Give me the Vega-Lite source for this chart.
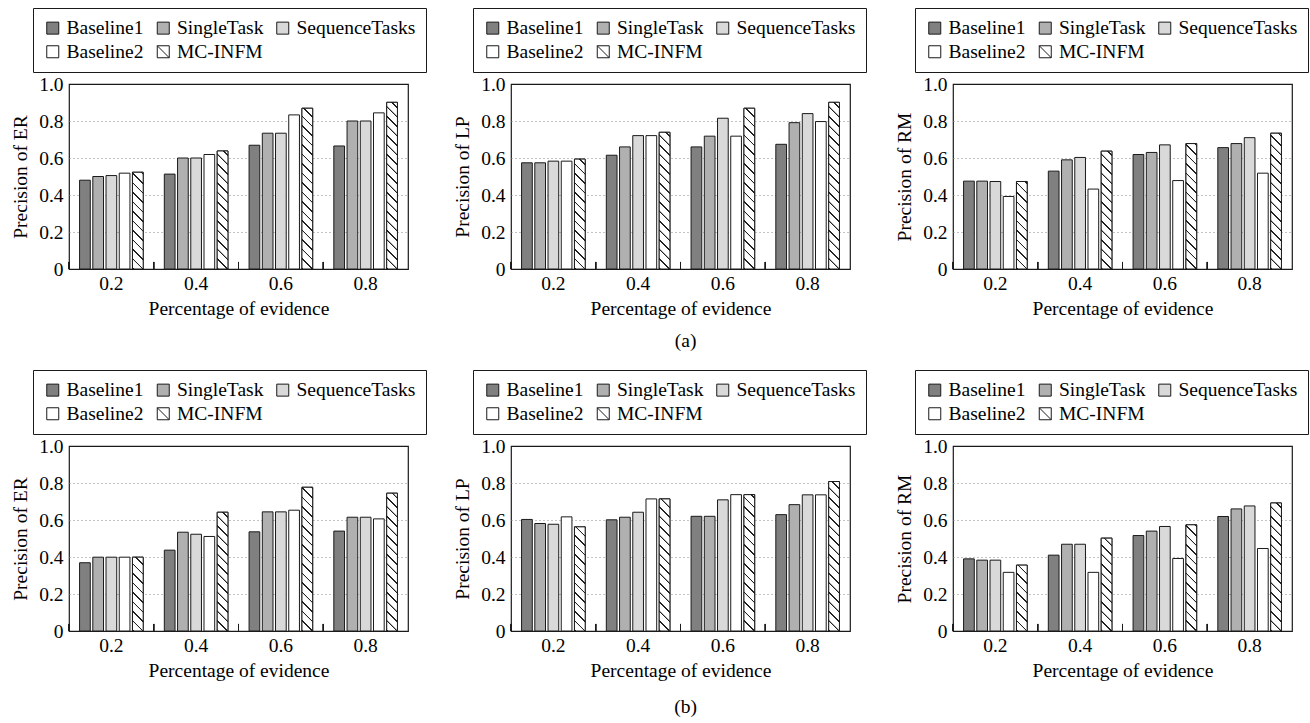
{
  "$schema": "https://vega.github.io/schema/vega-lite/v6.json",
  "padding": {"left": 10, "top": 6, "right": 0, "bottom": 2},
  "background": "white",
  "params": [
    {"name": "hatchStops", "value": [
      {"offset": 0, "color": "#ffffff"}, {"offset": 0.0014, "color": "#222222"}, {"offset": 0.0077, "color": "#222222"}, {"offset": 0.0091, "color": "#ffffff"},
      {"offset": 0.0455, "color": "#ffffff"}, {"offset": 0.0468, "color": "#222222"}, {"offset": 0.0532, "color": "#222222"}, {"offset": 0.0545, "color": "#ffffff"},
      {"offset": 0.0909, "color": "#ffffff"}, {"offset": 0.0923, "color": "#222222"}, {"offset": 0.0986, "color": "#222222"}, {"offset": 0.1, "color": "#ffffff"},
      {"offset": 0.1364, "color": "#ffffff"}, {"offset": 0.1377, "color": "#222222"}, {"offset": 0.1441, "color": "#222222"}, {"offset": 0.1455, "color": "#ffffff"},
      {"offset": 0.1818, "color": "#ffffff"}, {"offset": 0.1832, "color": "#222222"}, {"offset": 0.1895, "color": "#222222"}, {"offset": 0.1909, "color": "#ffffff"},
      {"offset": 0.2273, "color": "#ffffff"}, {"offset": 0.2286, "color": "#222222"}, {"offset": 0.235, "color": "#222222"}, {"offset": 0.2364, "color": "#ffffff"},
      {"offset": 0.2727, "color": "#ffffff"}, {"offset": 0.2741, "color": "#222222"}, {"offset": 0.2805, "color": "#222222"}, {"offset": 0.2818, "color": "#ffffff"},
      {"offset": 0.3182, "color": "#ffffff"}, {"offset": 0.3195, "color": "#222222"}, {"offset": 0.3259, "color": "#222222"}, {"offset": 0.3273, "color": "#ffffff"},
      {"offset": 0.3636, "color": "#ffffff"}, {"offset": 0.365, "color": "#222222"}, {"offset": 0.3714, "color": "#222222"}, {"offset": 0.3727, "color": "#ffffff"},
      {"offset": 0.4091, "color": "#ffffff"}, {"offset": 0.4105, "color": "#222222"}, {"offset": 0.4168, "color": "#222222"}, {"offset": 0.4182, "color": "#ffffff"},
      {"offset": 0.4545, "color": "#ffffff"}, {"offset": 0.4559, "color": "#222222"}, {"offset": 0.4623, "color": "#222222"}, {"offset": 0.4636, "color": "#ffffff"},
      {"offset": 0.5, "color": "#ffffff"}, {"offset": 0.5014, "color": "#222222"}, {"offset": 0.5077, "color": "#222222"}, {"offset": 0.5091, "color": "#ffffff"},
      {"offset": 0.5455, "color": "#ffffff"}, {"offset": 0.5468, "color": "#222222"}, {"offset": 0.5532, "color": "#222222"}, {"offset": 0.5545, "color": "#ffffff"},
      {"offset": 0.5909, "color": "#ffffff"}, {"offset": 0.5923, "color": "#222222"}, {"offset": 0.5986, "color": "#222222"}, {"offset": 0.6, "color": "#ffffff"},
      {"offset": 0.6364, "color": "#ffffff"}, {"offset": 0.6377, "color": "#222222"}, {"offset": 0.6441, "color": "#222222"}, {"offset": 0.6455, "color": "#ffffff"},
      {"offset": 0.6818, "color": "#ffffff"}, {"offset": 0.6832, "color": "#222222"}, {"offset": 0.6895, "color": "#222222"}, {"offset": 0.6909, "color": "#ffffff"},
      {"offset": 0.7273, "color": "#ffffff"}, {"offset": 0.7286, "color": "#222222"}, {"offset": 0.735, "color": "#222222"}, {"offset": 0.7364, "color": "#ffffff"},
      {"offset": 0.7727, "color": "#ffffff"}, {"offset": 0.7741, "color": "#222222"}, {"offset": 0.7805, "color": "#222222"}, {"offset": 0.7818, "color": "#ffffff"},
      {"offset": 0.8182, "color": "#ffffff"}, {"offset": 0.8195, "color": "#222222"}, {"offset": 0.8259, "color": "#222222"}, {"offset": 0.8273, "color": "#ffffff"},
      {"offset": 0.8636, "color": "#ffffff"}, {"offset": 0.865, "color": "#222222"}, {"offset": 0.8714, "color": "#222222"}, {"offset": 0.8727, "color": "#ffffff"},
      {"offset": 0.9091, "color": "#ffffff"}, {"offset": 0.9105, "color": "#222222"}, {"offset": 0.9168, "color": "#222222"}, {"offset": 0.9182, "color": "#ffffff"},
      {"offset": 0.9545, "color": "#ffffff"}, {"offset": 0.9559, "color": "#222222"}, {"offset": 0.9623, "color": "#222222"}, {"offset": 0.9636, "color": "#ffffff"},
      {"offset": 1, "color": "#ffffff"}
    ]}
  ],
  "data": {"values": [
    {"p": "a", "t": "ER", "pct": "0.2", "Baseline1": 0.48, "SingleTask": 0.5, "SequenceTasks": 0.505, "Baseline2": 0.518, "MC-INFM": 0.523},
    {"p": "a", "t": "ER", "pct": "0.4", "Baseline1": 0.513, "SingleTask": 0.6, "SequenceTasks": 0.6, "Baseline2": 0.619, "MC-INFM": 0.638},
    {"p": "a", "t": "ER", "pct": "0.6", "Baseline1": 0.669, "SingleTask": 0.734, "SequenceTasks": 0.734, "Baseline2": 0.833, "MC-INFM": 0.869},
    {"p": "a", "t": "ER", "pct": "0.8", "Baseline1": 0.665, "SingleTask": 0.8, "SequenceTasks": 0.8, "Baseline2": 0.844, "MC-INFM": 0.901},
    {"p": "a", "t": "LP", "pct": "0.2", "Baseline1": 0.574, "SingleTask": 0.574, "SequenceTasks": 0.583, "Baseline2": 0.583, "MC-INFM": 0.594},
    {"p": "a", "t": "LP", "pct": "0.4", "Baseline1": 0.615, "SingleTask": 0.66, "SequenceTasks": 0.721, "Baseline2": 0.721, "MC-INFM": 0.739},
    {"p": "a", "t": "LP", "pct": "0.6", "Baseline1": 0.66, "SingleTask": 0.718, "SequenceTasks": 0.815, "Baseline2": 0.718, "MC-INFM": 0.869},
    {"p": "a", "t": "LP", "pct": "0.8", "Baseline1": 0.674, "SingleTask": 0.791, "SequenceTasks": 0.84, "Baseline2": 0.797, "MC-INFM": 0.901},
    {"p": "a", "t": "RM", "pct": "0.2", "Baseline1": 0.475, "SingleTask": 0.475, "SequenceTasks": 0.473, "Baseline2": 0.392, "MC-INFM": 0.473},
    {"p": "a", "t": "RM", "pct": "0.4", "Baseline1": 0.529, "SingleTask": 0.59, "SequenceTasks": 0.603, "Baseline2": 0.432, "MC-INFM": 0.637},
    {"p": "a", "t": "RM", "pct": "0.6", "Baseline1": 0.619, "SingleTask": 0.63, "SequenceTasks": 0.671, "Baseline2": 0.478, "MC-INFM": 0.678},
    {"p": "a", "t": "RM", "pct": "0.8", "Baseline1": 0.656, "SingleTask": 0.678, "SequenceTasks": 0.71, "Baseline2": 0.518, "MC-INFM": 0.734},
    {"p": "b", "t": "ER", "pct": "0.2", "Baseline1": 0.369, "SingleTask": 0.399, "SequenceTasks": 0.399, "Baseline2": 0.399, "MC-INFM": 0.399},
    {"p": "b", "t": "ER", "pct": "0.4", "Baseline1": 0.437, "SingleTask": 0.534, "SequenceTasks": 0.523, "Baseline2": 0.511, "MC-INFM": 0.642},
    {"p": "b", "t": "ER", "pct": "0.6", "Baseline1": 0.536, "SingleTask": 0.644, "SequenceTasks": 0.644, "Baseline2": 0.653, "MC-INFM": 0.777},
    {"p": "b", "t": "ER", "pct": "0.8", "Baseline1": 0.54, "SingleTask": 0.615, "SequenceTasks": 0.615, "Baseline2": 0.606, "MC-INFM": 0.745},
    {"p": "b", "t": "LP", "pct": "0.2", "Baseline1": 0.603, "SingleTask": 0.581, "SequenceTasks": 0.577, "Baseline2": 0.617, "MC-INFM": 0.563},
    {"p": "b", "t": "LP", "pct": "0.4", "Baseline1": 0.601, "SingleTask": 0.615, "SequenceTasks": 0.642, "Baseline2": 0.714, "MC-INFM": 0.714},
    {"p": "b", "t": "LP", "pct": "0.6", "Baseline1": 0.62, "SingleTask": 0.62, "SequenceTasks": 0.709, "Baseline2": 0.737, "MC-INFM": 0.737},
    {"p": "b", "t": "LP", "pct": "0.8", "Baseline1": 0.629, "SingleTask": 0.683, "SequenceTasks": 0.736, "Baseline2": 0.736, "MC-INFM": 0.808},
    {"p": "b", "t": "RM", "pct": "0.2", "Baseline1": 0.39, "SingleTask": 0.383, "SequenceTasks": 0.383, "Baseline2": 0.317, "MC-INFM": 0.356},
    {"p": "b", "t": "RM", "pct": "0.4", "Baseline1": 0.41, "SingleTask": 0.469, "SequenceTasks": 0.469, "Baseline2": 0.317, "MC-INFM": 0.502},
    {"p": "b", "t": "RM", "pct": "0.6", "Baseline1": 0.516, "SingleTask": 0.54, "SequenceTasks": 0.565, "Baseline2": 0.392, "MC-INFM": 0.574},
    {"p": "b", "t": "RM", "pct": "0.8", "Baseline1": 0.619, "SingleTask": 0.66, "SequenceTasks": 0.676, "Baseline2": 0.446, "MC-INFM": 0.692}
  ]},
  "spacing": 17,
  "resolve": {"scale": {"fill": "independent"}, "legend": {"fill": "independent"}},
  "vconcat": [
    {
      "title": {"text": "(a)", "orient": "bottom", "anchor": "middle", "dx": 26, "offset": 13},
      "spacing": 103,
      "bounds": "flush",
      "resolve": {"scale": {"fill": "independent"}, "legend": {"fill": "independent"}},
      "hconcat": [
        {
          "width": 339, "height": 185,
          "transform": [{"filter": "datum.p === 'a' && datum.t === 'ER'"}, {"fold": ["Baseline1", "SingleTask", "SequenceTasks", "Baseline2", "MC-INFM"], "as": ["series", "value"]}],
          "encoding": {
            "x": {"field": "pct", "type": "nominal", "scale": {"paddingInner": 0, "paddingOuter": 0}, "axis": {"title": "Percentage of evidence"}},
            "y": {"field": "value", "type": "quantitative", "stack": null, "scale": {"domain": [0, 1], "nice": false}, "axis": {"title": "Precision of ER", "values": [0, 0.2, 0.4, 0.6, 0.8, 1], "labelExpr": "datum.value === 0 ? '0' : format(datum.value, '.1f')", "gridOpacity": {"condition": {"test": "datum.value === 0 || datum.value === 1", "value": 0}, "value": 1}}}
          },
          "layer": [
            {"mark": {"type": "bar", "stroke": "#1a1a1a", "strokeWidth": 1},
             "encoding": {
               "xOffset": {"field": "series", "type": "nominal", "scale": {"domain": ["Baseline1", "SingleTask", "SequenceTasks", "Baseline2", "MC-INFM"], "paddingInner": 0.19, "paddingOuter": 0.8}},
               "fill": {"field": "series", "type": "nominal", "scale": {"domain": ["Baseline1", "SingleTask", "SequenceTasks", "Baseline2", "MC-INFM"], "range": ["#808080", "#b0b0b0", "#d9d9d9", "#ffffff", "#ffffff"]},
                 "legend": {"orient": "none", "legendX": -36, "legendY": -76, "direction": "horizontal", "columns": 3, "title": null,
                   "encode": {"symbols": {"update": {"shape": {"signal": "datum.value === 'MC-INFM' ? 'M-1,-1H1V1H-1ZM-1,-1L1,1' : 'square'"}}}}}}
             }},
            {"transform": [{"filter": "datum.series === 'MC-INFM'"}],
             "mark": {"type": "bar", "stroke": "#1a1a1a", "strokeWidth": 1,
               "fill": {"expr": "{gradient: 'linear', x1: 0, y1: 1, x2: 209 * 10.7 / (114.5 + pow(datum.value * 185, 2)), y2: 1 - 209 * datum.value * 185 / (114.5 + pow(datum.value * 185, 2)), stops: hatchStops}"}},
             "encoding": {
               "xOffset": {"field": "series", "type": "nominal", "scale": {"domain": ["Baseline1", "SingleTask", "SequenceTasks", "Baseline2", "MC-INFM"], "paddingInner": 0.19, "paddingOuter": 0.8}}
             }},
            {"mark": {"type": "rule", "color": "#1a1a1a", "strokeWidth": 1},
             "encoding": {
               "x": {"field": "pct", "type": "nominal", "bandPosition": 0},
               "y": {"datum": 0},
               "y2": {"datum": 0.038}
             }}
          ]
        },
        {
          "width": 339, "height": 185,
          "transform": [{"filter": "datum.p === 'a' && datum.t === 'LP'"}, {"fold": ["Baseline1", "SingleTask", "SequenceTasks", "Baseline2", "MC-INFM"], "as": ["series", "value"]}],
          "encoding": {
            "x": {"field": "pct", "type": "nominal", "scale": {"paddingInner": 0, "paddingOuter": 0}, "axis": {"title": "Percentage of evidence"}},
            "y": {"field": "value", "type": "quantitative", "stack": null, "scale": {"domain": [0, 1], "nice": false}, "axis": {"title": "Precision of LP", "values": [0, 0.2, 0.4, 0.6, 0.8, 1], "labelExpr": "datum.value === 0 ? '0' : format(datum.value, '.1f')", "gridOpacity": {"condition": {"test": "datum.value === 0 || datum.value === 1", "value": 0}, "value": 1}}}
          },
          "layer": [
            {"mark": {"type": "bar", "stroke": "#1a1a1a", "strokeWidth": 1},
             "encoding": {
               "xOffset": {"field": "series", "type": "nominal", "scale": {"domain": ["Baseline1", "SingleTask", "SequenceTasks", "Baseline2", "MC-INFM"], "paddingInner": 0.19, "paddingOuter": 0.8}},
               "fill": {"field": "series", "type": "nominal", "scale": {"domain": ["Baseline1", "SingleTask", "SequenceTasks", "Baseline2", "MC-INFM"], "range": ["#808080", "#b0b0b0", "#d9d9d9", "#ffffff", "#ffffff"]},
                 "legend": {"orient": "none", "legendX": -38, "legendY": -76, "direction": "horizontal", "columns": 3, "title": null,
                   "encode": {"symbols": {"update": {"shape": {"signal": "datum.value === 'MC-INFM' ? 'M-1,-1H1V1H-1ZM-1,-1L1,1' : 'square'"}}}}}}
             }},
            {"transform": [{"filter": "datum.series === 'MC-INFM'"}],
             "mark": {"type": "bar", "stroke": "#1a1a1a", "strokeWidth": 1,
               "fill": {"expr": "{gradient: 'linear', x1: 0, y1: 1, x2: 209 * 10.7 / (114.5 + pow(datum.value * 185, 2)), y2: 1 - 209 * datum.value * 185 / (114.5 + pow(datum.value * 185, 2)), stops: hatchStops}"}},
             "encoding": {
               "xOffset": {"field": "series", "type": "nominal", "scale": {"domain": ["Baseline1", "SingleTask", "SequenceTasks", "Baseline2", "MC-INFM"], "paddingInner": 0.19, "paddingOuter": 0.8}}
             }},
            {"mark": {"type": "rule", "color": "#1a1a1a", "strokeWidth": 1},
             "encoding": {
               "x": {"field": "pct", "type": "nominal", "bandPosition": 0},
               "y": {"datum": 0},
               "y2": {"datum": 0.038}
             }}
          ]
        },
        {
          "width": 339, "height": 185,
          "transform": [{"filter": "datum.p === 'a' && datum.t === 'RM'"}, {"fold": ["Baseline1", "SingleTask", "SequenceTasks", "Baseline2", "MC-INFM"], "as": ["series", "value"]}],
          "encoding": {
            "x": {"field": "pct", "type": "nominal", "scale": {"paddingInner": 0, "paddingOuter": 0}, "axis": {"title": "Percentage of evidence"}},
            "y": {"field": "value", "type": "quantitative", "stack": null, "scale": {"domain": [0, 1], "nice": false}, "axis": {"title": "Precision of RM", "values": [0, 0.2, 0.4, 0.6, 0.8, 1], "labelExpr": "datum.value === 0 ? '0' : format(datum.value, '.1f')", "gridOpacity": {"condition": {"test": "datum.value === 0 || datum.value === 1", "value": 0}, "value": 1}}}
          },
          "layer": [
            {"mark": {"type": "bar", "stroke": "#1a1a1a", "strokeWidth": 1},
             "encoding": {
               "xOffset": {"field": "series", "type": "nominal", "scale": {"domain": ["Baseline1", "SingleTask", "SequenceTasks", "Baseline2", "MC-INFM"], "paddingInner": 0.19, "paddingOuter": 0.8}},
               "fill": {"field": "series", "type": "nominal", "scale": {"domain": ["Baseline1", "SingleTask", "SequenceTasks", "Baseline2", "MC-INFM"], "range": ["#808080", "#b0b0b0", "#d9d9d9", "#ffffff", "#ffffff"]},
                 "legend": {"orient": "none", "legendX": -38, "legendY": -76, "direction": "horizontal", "columns": 3, "title": null,
                   "encode": {"symbols": {"update": {"shape": {"signal": "datum.value === 'MC-INFM' ? 'M-1,-1H1V1H-1ZM-1,-1L1,1' : 'square'"}}}}}}
             }},
            {"transform": [{"filter": "datum.series === 'MC-INFM'"}],
             "mark": {"type": "bar", "stroke": "#1a1a1a", "strokeWidth": 1,
               "fill": {"expr": "{gradient: 'linear', x1: 0, y1: 1, x2: 209 * 10.7 / (114.5 + pow(datum.value * 185, 2)), y2: 1 - 209 * datum.value * 185 / (114.5 + pow(datum.value * 185, 2)), stops: hatchStops}"}},
             "encoding": {
               "xOffset": {"field": "series", "type": "nominal", "scale": {"domain": ["Baseline1", "SingleTask", "SequenceTasks", "Baseline2", "MC-INFM"], "paddingInner": 0.19, "paddingOuter": 0.8}}
             }},
            {"mark": {"type": "rule", "color": "#1a1a1a", "strokeWidth": 1},
             "encoding": {
               "x": {"field": "pct", "type": "nominal", "bandPosition": 0},
               "y": {"datum": 0},
               "y2": {"datum": 0.038}
             }}
          ]
        }
      ]
    },
    {
      "title": {"text": "(b)", "orient": "bottom", "anchor": "middle", "dx": 26, "offset": 17},
      "spacing": 103,
      "bounds": "flush",
      "resolve": {"scale": {"fill": "independent"}, "legend": {"fill": "independent"}},
      "hconcat": [
        {
          "width": 339, "height": 185,
          "transform": [{"filter": "datum.p === 'b' && datum.t === 'ER'"}, {"fold": ["Baseline1", "SingleTask", "SequenceTasks", "Baseline2", "MC-INFM"], "as": ["series", "value"]}],
          "encoding": {
            "x": {"field": "pct", "type": "nominal", "scale": {"paddingInner": 0, "paddingOuter": 0}, "axis": {"title": "Percentage of evidence"}},
            "y": {"field": "value", "type": "quantitative", "stack": null, "scale": {"domain": [0, 1], "nice": false}, "axis": {"title": "Precision of ER", "values": [0, 0.2, 0.4, 0.6, 0.8, 1], "labelExpr": "datum.value === 0 ? '0' : format(datum.value, '.1f')", "gridOpacity": {"condition": {"test": "datum.value === 0 || datum.value === 1", "value": 0}, "value": 1}}}
          },
          "layer": [
            {"mark": {"type": "bar", "stroke": "#1a1a1a", "strokeWidth": 1},
             "encoding": {
               "xOffset": {"field": "series", "type": "nominal", "scale": {"domain": ["Baseline1", "SingleTask", "SequenceTasks", "Baseline2", "MC-INFM"], "paddingInner": 0.19, "paddingOuter": 0.8}},
               "fill": {"field": "series", "type": "nominal", "scale": {"domain": ["Baseline1", "SingleTask", "SequenceTasks", "Baseline2", "MC-INFM"], "range": ["#808080", "#b0b0b0", "#d9d9d9", "#ffffff", "#ffffff"]},
                 "legend": {"orient": "none", "legendX": -36, "legendY": -76, "direction": "horizontal", "columns": 3, "title": null,
                   "encode": {"symbols": {"update": {"shape": {"signal": "datum.value === 'MC-INFM' ? 'M-1,-1H1V1H-1ZM-1,-1L1,1' : 'square'"}}}}}}
             }},
            {"transform": [{"filter": "datum.series === 'MC-INFM'"}],
             "mark": {"type": "bar", "stroke": "#1a1a1a", "strokeWidth": 1,
               "fill": {"expr": "{gradient: 'linear', x1: 0, y1: 1, x2: 209 * 10.7 / (114.5 + pow(datum.value * 185, 2)), y2: 1 - 209 * datum.value * 185 / (114.5 + pow(datum.value * 185, 2)), stops: hatchStops}"}},
             "encoding": {
               "xOffset": {"field": "series", "type": "nominal", "scale": {"domain": ["Baseline1", "SingleTask", "SequenceTasks", "Baseline2", "MC-INFM"], "paddingInner": 0.19, "paddingOuter": 0.8}}
             }},
            {"mark": {"type": "rule", "color": "#1a1a1a", "strokeWidth": 1},
             "encoding": {
               "x": {"field": "pct", "type": "nominal", "bandPosition": 0},
               "y": {"datum": 0},
               "y2": {"datum": 0.038}
             }}
          ]
        },
        {
          "width": 339, "height": 185,
          "transform": [{"filter": "datum.p === 'b' && datum.t === 'LP'"}, {"fold": ["Baseline1", "SingleTask", "SequenceTasks", "Baseline2", "MC-INFM"], "as": ["series", "value"]}],
          "encoding": {
            "x": {"field": "pct", "type": "nominal", "scale": {"paddingInner": 0, "paddingOuter": 0}, "axis": {"title": "Percentage of evidence"}},
            "y": {"field": "value", "type": "quantitative", "stack": null, "scale": {"domain": [0, 1], "nice": false}, "axis": {"title": "Precision of LP", "values": [0, 0.2, 0.4, 0.6, 0.8, 1], "labelExpr": "datum.value === 0 ? '0' : format(datum.value, '.1f')", "gridOpacity": {"condition": {"test": "datum.value === 0 || datum.value === 1", "value": 0}, "value": 1}}}
          },
          "layer": [
            {"mark": {"type": "bar", "stroke": "#1a1a1a", "strokeWidth": 1},
             "encoding": {
               "xOffset": {"field": "series", "type": "nominal", "scale": {"domain": ["Baseline1", "SingleTask", "SequenceTasks", "Baseline2", "MC-INFM"], "paddingInner": 0.19, "paddingOuter": 0.8}},
               "fill": {"field": "series", "type": "nominal", "scale": {"domain": ["Baseline1", "SingleTask", "SequenceTasks", "Baseline2", "MC-INFM"], "range": ["#808080", "#b0b0b0", "#d9d9d9", "#ffffff", "#ffffff"]},
                 "legend": {"orient": "none", "legendX": -38, "legendY": -76, "direction": "horizontal", "columns": 3, "title": null,
                   "encode": {"symbols": {"update": {"shape": {"signal": "datum.value === 'MC-INFM' ? 'M-1,-1H1V1H-1ZM-1,-1L1,1' : 'square'"}}}}}}
             }},
            {"transform": [{"filter": "datum.series === 'MC-INFM'"}],
             "mark": {"type": "bar", "stroke": "#1a1a1a", "strokeWidth": 1,
               "fill": {"expr": "{gradient: 'linear', x1: 0, y1: 1, x2: 209 * 10.7 / (114.5 + pow(datum.value * 185, 2)), y2: 1 - 209 * datum.value * 185 / (114.5 + pow(datum.value * 185, 2)), stops: hatchStops}"}},
             "encoding": {
               "xOffset": {"field": "series", "type": "nominal", "scale": {"domain": ["Baseline1", "SingleTask", "SequenceTasks", "Baseline2", "MC-INFM"], "paddingInner": 0.19, "paddingOuter": 0.8}}
             }},
            {"mark": {"type": "rule", "color": "#1a1a1a", "strokeWidth": 1},
             "encoding": {
               "x": {"field": "pct", "type": "nominal", "bandPosition": 0},
               "y": {"datum": 0},
               "y2": {"datum": 0.038}
             }}
          ]
        },
        {
          "width": 339, "height": 185,
          "transform": [{"filter": "datum.p === 'b' && datum.t === 'RM'"}, {"fold": ["Baseline1", "SingleTask", "SequenceTasks", "Baseline2", "MC-INFM"], "as": ["series", "value"]}],
          "encoding": {
            "x": {"field": "pct", "type": "nominal", "scale": {"paddingInner": 0, "paddingOuter": 0}, "axis": {"title": "Percentage of evidence"}},
            "y": {"field": "value", "type": "quantitative", "stack": null, "scale": {"domain": [0, 1], "nice": false}, "axis": {"title": "Precision of RM", "values": [0, 0.2, 0.4, 0.6, 0.8, 1], "labelExpr": "datum.value === 0 ? '0' : format(datum.value, '.1f')", "gridOpacity": {"condition": {"test": "datum.value === 0 || datum.value === 1", "value": 0}, "value": 1}}}
          },
          "layer": [
            {"mark": {"type": "bar", "stroke": "#1a1a1a", "strokeWidth": 1},
             "encoding": {
               "xOffset": {"field": "series", "type": "nominal", "scale": {"domain": ["Baseline1", "SingleTask", "SequenceTasks", "Baseline2", "MC-INFM"], "paddingInner": 0.19, "paddingOuter": 0.8}},
               "fill": {"field": "series", "type": "nominal", "scale": {"domain": ["Baseline1", "SingleTask", "SequenceTasks", "Baseline2", "MC-INFM"], "range": ["#808080", "#b0b0b0", "#d9d9d9", "#ffffff", "#ffffff"]},
                 "legend": {"orient": "none", "legendX": -38, "legendY": -76, "direction": "horizontal", "columns": 3, "title": null,
                   "encode": {"symbols": {"update": {"shape": {"signal": "datum.value === 'MC-INFM' ? 'M-1,-1H1V1H-1ZM-1,-1L1,1' : 'square'"}}}}}}
             }},
            {"transform": [{"filter": "datum.series === 'MC-INFM'"}],
             "mark": {"type": "bar", "stroke": "#1a1a1a", "strokeWidth": 1,
               "fill": {"expr": "{gradient: 'linear', x1: 0, y1: 1, x2: 209 * 10.7 / (114.5 + pow(datum.value * 185, 2)), y2: 1 - 209 * datum.value * 185 / (114.5 + pow(datum.value * 185, 2)), stops: hatchStops}"}},
             "encoding": {
               "xOffset": {"field": "series", "type": "nominal", "scale": {"domain": ["Baseline1", "SingleTask", "SequenceTasks", "Baseline2", "MC-INFM"], "paddingInner": 0.19, "paddingOuter": 0.8}}
             }},
            {"mark": {"type": "rule", "color": "#1a1a1a", "strokeWidth": 1},
             "encoding": {
               "x": {"field": "pct", "type": "nominal", "bandPosition": 0},
               "y": {"datum": 0},
               "y2": {"datum": 0.038}
             }}
          ]
        }
      ]
    }
  ],
  "config": {
    "font": "Liberation Serif",
    "view": {"stroke": "#1a1a1a", "strokeWidth": 1.2},
    "title": {"font": "Liberation Serif", "fontSize": 19.5, "fontWeight": "normal", "color": "black"},
    "axis": {"labelFont": "Liberation Serif", "titleFont": "Liberation Serif", "labelFontSize": 19.5, "titleFontSize": 19.5, "titleFontWeight": "normal", "labelColor": "black", "titleColor": "black", "domain": false, "ticks": false},
    "axisX": {"labelAngle": 0, "labelPadding": 5, "titlePadding": 7, "grid": false},
    "axisY": {"labelPadding": 6, "titlePadding": 8, "grid": true, "gridColor": "#888888", "gridDash": [1, 3], "gridWidth": 1},
    "legend": {"strokeColor": "#1a1a1a", "padding": 10, "symbolType": "square", "symbolSize": 144, "symbolStrokeColor": "#1a1a1a", "symbolStrokeWidth": 1, "symbolOpacity": 1, "labelFont": "Liberation Serif", "labelFontSize": 19.5, "labelColor": "black", "labelOffset": 4, "columnPadding": 9.5, "rowPadding": 3, "labelLimit": 300}
  }
}
